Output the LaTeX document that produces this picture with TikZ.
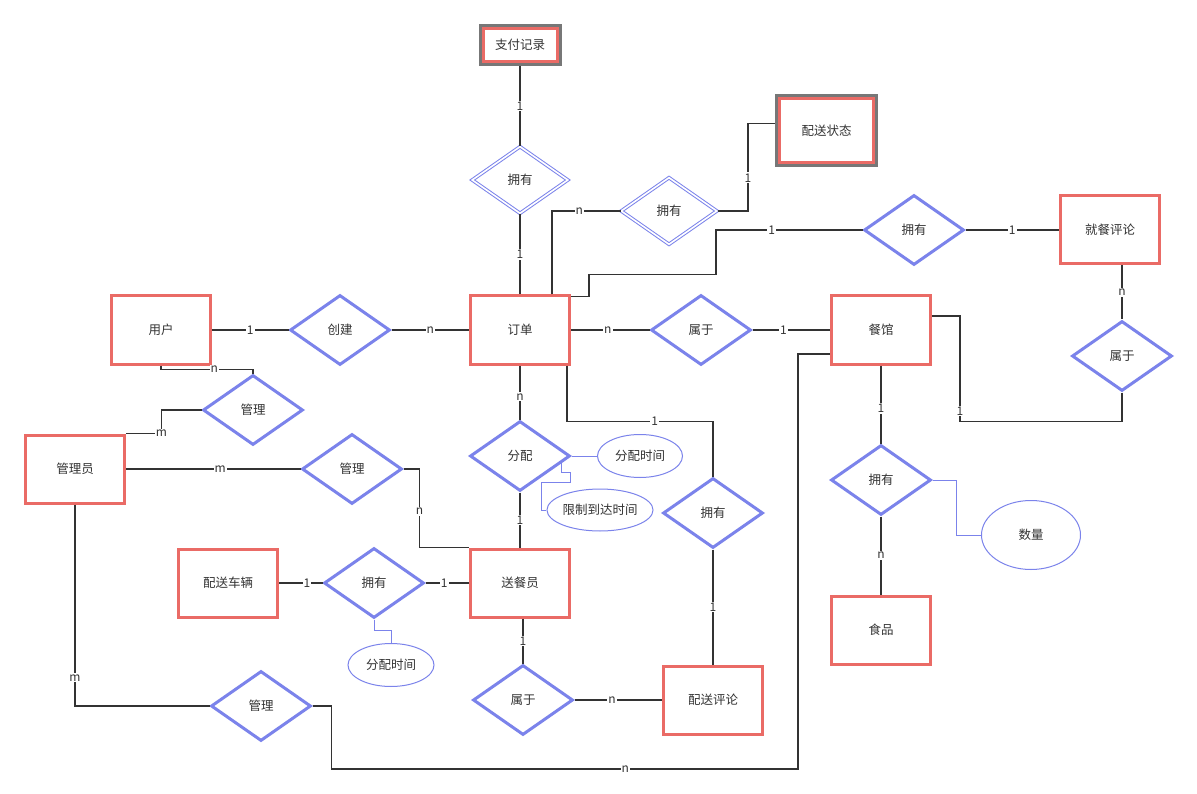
\documentclass[tikz,border=0pt]{standalone}
\usepackage{fontspec}
\setmainfont{Noto Sans CJK SC}
\usepackage{tikz}
\usetikzlibrary{shapes.geometric}
\usetikzlibrary{calc}
\definecolor{erred}{HTML}{EA6B66}
\definecolor{erblue}{HTML}{7B83EB}
\definecolor{ergrey}{HTML}{777777}
\definecolor{ertext}{HTML}{333333}
\tikzset{basic/.style={fill=white,text=ertext,inner sep=0pt,
                       font=\fontsize{12.5}{14}\selectfont}}
\tikzset{entity/.style={basic,draw=erred,line width=3pt,
                        minimum width=99pt,minimum height=68pt}}
\tikzset{weakouter/.style={basic,draw=ergrey,line width=4pt}}
\tikzset{relation/.style={basic,diamond,draw=erblue,line width=3pt,
                          minimum width=100pt,minimum height=70pt}}
\tikzset{idrelation/.style={relation,line width=1pt,double=white,
                            double distance=1.6pt,minimum width=96pt,minimum height=67pt}}
\tikzset{attrib/.style={basic,ellipse,draw=erblue,line width=1pt}}

\begin{document}
\begin{tikzpicture}[x=1pt,y=-1pt,line width=1.2pt]
    \tikzstyle{card}=[fill=white,text=ertext,inner sep=1pt,font=\fontsize{12}{12}\selectfont]
    \tikzstyle{attrline}=[draw=erblue,line width=1pt]
    \fill[white] (0,0) rectangle (1197,794);
    \useasboundingbox (0,0) rectangle (1197,794);

    % Entities
    \foreach \nm/\txt/\x/\y in {yh/用户/161/330, dd/订单/520/330, cg/餐馆/881/330,
                                jcpl/就餐评论/1110/230, gly/管理员/75/469, scy/送餐员/520/583,
                                pscl/配送车辆/228/583, pspl/配送评论/713/700, sp/食品/881/630}{%
          \node[entity] (\nm) at (\x,\y) {\txt};
		}

    % Weak entities
    \node[weakouter,minimum width=79pt,minimum height=38pt] (zfjlo) at (520,45) {};
    \node[entity,minimum width=74pt,minimum height=33pt] (zfjl) at (zfjlo) {支付记录};
    \node[weakouter,minimum width=99pt,minimum height=69pt] (pszto) at (826.5,130.5) {};
    \node[entity,minimum width=94pt,minimum height=64pt] (pszt) at (pszto) {配送状态};

    % Relations
    \foreach \nm/\txt/\x/\y in {cj/创建/340/330, sy/属于/701/330, yy3/拥有/914/230,
                                sy2/属于/1122/356, gl1/管理/253/410, gl2/管理/352/469,
                                fp/分配/520/456, yy4/拥有/713/513, yy6/拥有/881/480,
                                yy5/拥有/374/583, gl3/管理/261/706, sy3/属于/523/700}{%
          \node[relation] (\nm) at (\x,\y) {\txt};
		}
    \node[idrelation] (yy1) at (520,180) {拥有};
    \node[idrelation] (yy2) at (669,211) {拥有};

    % Attributes
    \node[attrib,minimum width=85pt,minimum height=43pt] (fpsj) at (640,456) {分配时间};
    \node[attrib,minimum width=101pt,minimum height=42pt] (xzsj) at (600,510) {限制到达时间};
    \node[attrib,minimum width=99pt,minimum height=69pt] (sl) at (1031,535) {数量};
    \node[attrib,minimum width=86pt,minimum height=43pt] (fpsj2) at (391,665) {分配时间};

    % Connectors
    \begin{scope}[draw=ertext]
    \draw (zfjlo.south) -- node[card]{1} (yy1.north);
    \draw (yy1.south) -- node[card]{1} (dd.north);
    \draw ([xshift=32pt]dd.north) |- node[card,pos=0.7]{n} (yy2.west);
    \draw (yy2.east) -| node[card,pos=0.69]{1} ([xshift=-27pt,yshift=7pt]pszto.west)
          -- ([yshift=7pt]pszto.west);
    \draw ([yshift=-2pt]dd.north east) -- ++(18,0) -- ++(0,-22) -- ++(127,0)
          |- node[card,pos=0.69]{1} (yy3.west);
    \draw (yy3.east) -- node[card]{1} (jcpl.west);
    \draw (sy2.north |- jcpl.south) -- node[card]{n} (sy2.north);
    \draw (sy2.south) -- ++(0,29) -| node[card,pos=0.55]{1} ([xshift=28pt,yshift=14pt]cg.east)
          -- ([yshift=14pt]cg.east);
    \draw (dd.east) -- node[card,pos=0.47]{n} (sy.west);
    \draw (sy.east) -- node[card,pos=0.4]{1} (cg.west);
    \draw (yh.east) -- node[card]{1} (cj.west);
    \draw (cj.east) -- node[card]{n} (dd.west);
    \draw (yh.south) -- ++(0,4) -| node[card,pos=0.29]{n} (gl1.north);
    \draw (gl1.west) -- ++(-40,0) |- node[card,pos=0.5]{m} (gly.north east);
    \draw (gly.east) -- node[card,pos=0.54]{m} (gl2.west);
    \draw (gl2.east) -- ++(16,0) |- node[card,pos=0.27]{n} (scy.north west);
    \draw (dd.south) -- node[card,pos=0.58]{n} (fp.north);
    \draw (fp.south) -- node[card]{1} (scy.north);
    \draw ([xshift=-4pt]dd.south east) -- ++(0,56) -| node[card,pos=0.3]{1} (yy4.north);
    \draw (yy4.south) -- node[card]{1} (pspl.north);
    \draw (cg.south) -- node[card,pos=0.55]{1} (yy6.north);
    \draw (yy6.south) -- node[card]{n} (sp.north);
    \draw (pscl.east) -- node[card,pos=0.64]{1} (yy5.west);
    \draw (yy5.east) -- node[card,pos=0.43]{1} (scy.west);
    \draw (sy3.north |- scy.south) -- node[card]{1} (sy3.north);
    \draw (sy3.east) -- node[card,pos=0.43]{n} (pspl.west);
    \draw (gly.south) |- node[card,pos=0.43]{m} (gl3.west);
    \draw (gl3.east) -- ++(19,0) -- ++(0,63) -| node[card,pos=0.315]{n} ([xshift=-32pt,yshift=-24pt]cg.west)
          -- ([yshift=-24pt]cg.west);
    \end{scope}

    % Attribute links
    \draw[attrline] (fp.east) -- (fpsj.west);
    \draw[attrline] ($(fp.east)!0.2!(fp.south)$) -- ++(0,9) -- ++(9,0) -- ++(0,10) -- ++(-29,0) |- (xzsj.west);
    \draw[attrline] (yy6.east) -- ++(24,0) |- (sl.west);
    \draw[attrline] (yy5.south) -- ++(0,11) -| (fpsj2.north);
\end{tikzpicture}
\end{document}
